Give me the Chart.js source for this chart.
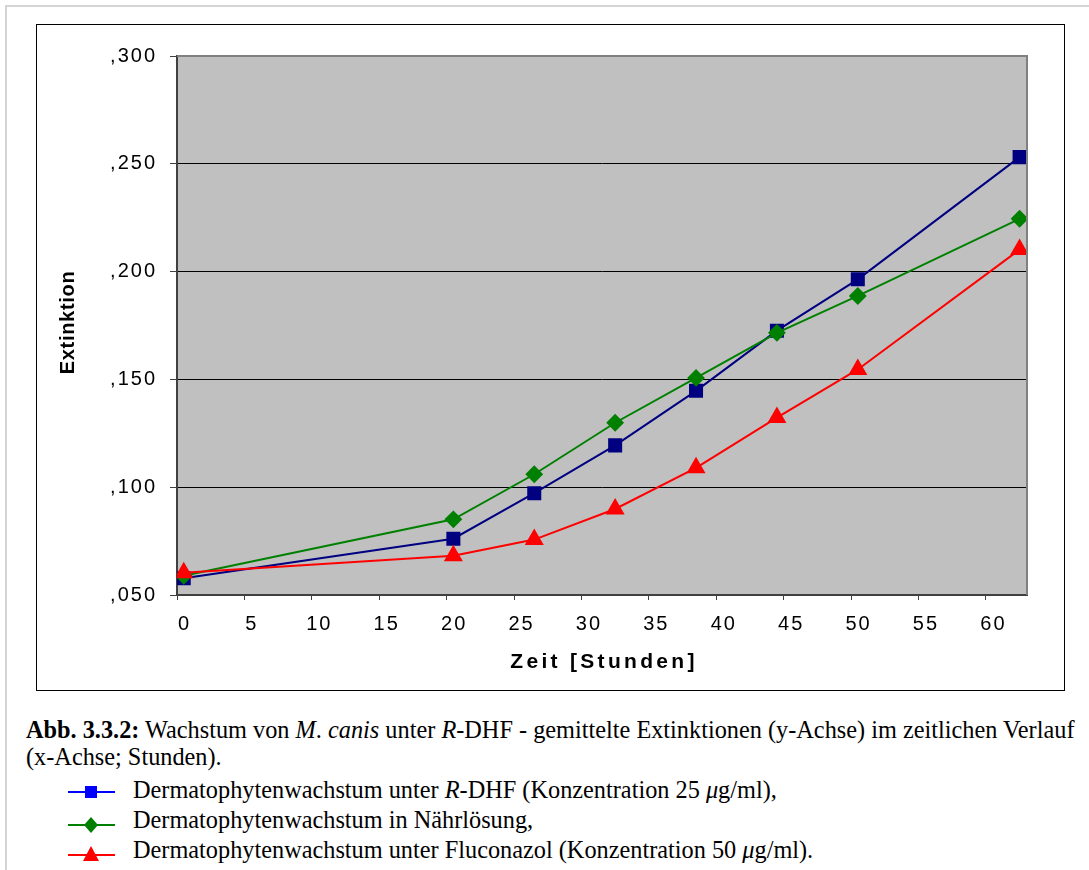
<!DOCTYPE html>
<html>
<head>
<meta charset="utf-8">
<script src="https://cdn.jsdelivr.net/npm/chart.js@4.4.1/dist/chart.umd.min.js"></script>
<style>
  body { margin: 0; background: #fff; width: 1089px; height: 870px; position: relative; overflow: hidden; }
  #frame { position: absolute; left: 5px; top: 5px; width: 1100px; height: 900px; border-top: 2px solid #d4d4d4; border-left: 2px solid #d4d4d4; }
  #box { position: absolute; left: 36px; top: 24px; width: 1029px; height: 667px; border: 1px solid #000; box-sizing: border-box; }
  #chart { position: absolute; left: 0; top: 0; }
  .cap { position: absolute; left: 26px; top: 716px; line-height: 27px; font-family: "Liberation Serif", "Times New Roman", serif; font-size: 24.3px; color: #000; white-space: nowrap; }
  .leg { position: absolute; left: 68px; height: 28px; line-height: 28px; font-family: "Liberation Serif", "Times New Roman", serif; font-size: 24.3px; color: #000; white-space: nowrap; }
  .leg svg { position: absolute; left: 0; }
  .leg span { position: absolute; left: 65px; top: 0; }
</style>
</head>
<body>
<div id="frame"></div>
<div id="box"><canvas id="chart" width="1027" height="665"></canvas></div>

<div class="cap">
  <b>Abb. 3.3.2:</b> Wachstum von <i>M</i>. <i>canis</i> unter <i>R</i>-DHF - gemittelte Extinktionen (y-Achse) im zeitlichen Verlauf<br>
  (x-Achse; Stunden).
</div>
<div class="leg" style="top:776px;">
  <svg width="50" height="18" style="top:7px;"><line x1="0" y1="9" x2="47" y2="9" stroke="#0000ff" stroke-width="2"/><rect x="17" y="3" width="12" height="12" fill="#0000ff"/></svg>
  <span>Dermatophytenwachstum unter <i>R</i>-DHF (Konzentration 25 <i>μ</i>g/ml),</span>
</div>
<div class="leg" style="top:806px;">
  <svg width="50" height="18" style="top:10px;"><line x1="0" y1="9" x2="47" y2="9" stroke="#008000" stroke-width="2"/><polygon points="23,1 30,9 23,17 16,9" fill="#008000"/></svg>
  <span>Dermatophytenwachstum in Nährlösung,</span>
</div>
<div class="leg" style="top:836px;">
  <svg width="50" height="18" style="top:9px;"><line x1="0" y1="10" x2="47" y2="10" stroke="#ff0000" stroke-width="2"/><polygon points="23,1 31,16 15,16" fill="#ff0000"/></svg>
  <span>Dermatophytenwachstum unter Fluconazol (Konzentration 50 <i>μ</i>g/ml).</span>
</div>

<script>
// hours of measurement
const hours = [0, 20, 26, 32, 38, 44, 50, 62];

// mean extinction values
const rdhf = [0.0578, 0.0761, 0.0972, 0.1194, 0.1447, 0.1726, 0.1964, 0.2531];
const naehrloesung = [0.0589, 0.0851, 0.1060, 0.1299, 0.1507, 0.1716, 0.1887, 0.2245];
const fluconazol = [0.0603, 0.0682, 0.0757, 0.0899, 0.1090, 0.1323, 0.1546, 0.2102];

// axis ticks
const xTicks = [0, 5, 10, 15, 20, 25, 30, 35, 40, 45, 50, 55, 60];
const yTicks = [0.05, 0.10, 0.15, 0.20, 0.25, 0.30];

const xTitle = "Zeit [Stunden]";
const yTitle = "Extinktion";

const sans = "'Liberation Sans', Arial, sans-serif";

function toPoints(values) {
    return hours.map((h, i) => ({ x: h, y: values[i] }));
}

// gray plot area, frame, wide axis text and titles
const plotArea = {
    id: "plotArea",
    beforeDraw(chart) {
        const { ctx, chartArea: a } = chart;
        ctx.save();
        ctx.fillStyle = "#c0c0c0";
        ctx.fillRect(a.left, a.top, a.right - a.left, a.bottom - a.top);
        ctx.restore();
        ctx.letterSpacing = "2px"; // tick labels run wide in the original
    },
    afterDraw(chart) {
        const { ctx, chartArea: a } = chart;
        ctx.letterSpacing = "0px";
        ctx.save();
        ctx.strokeStyle = "#808080";
        ctx.lineWidth = 2;
        ctx.beginPath();
        ctx.moveTo(a.left, a.top);
        ctx.lineTo(a.right, a.top);
        ctx.lineTo(a.right, a.bottom);
        ctx.stroke();

        ctx.fillStyle = "#000";
        ctx.textAlign = "center";
        ctx.textBaseline = "middle";
        ctx.font = "bold 21px " + sans;
        ctx.letterSpacing = "3.3px";
        ctx.fillText(xTitle, (a.left + a.right) / 2 + 2, 637);

        ctx.font = "bold 20px " + sans;
        ctx.letterSpacing = "0.7px";
        ctx.translate(31, (a.top + a.bottom) / 2 - 3);
        ctx.rotate(-Math.PI / 2);
        ctx.fillText(yTitle, 0, 0);
        ctx.restore();
    }
};

new Chart(document.getElementById("chart"), {
    type: "line",
    data: {
        datasets: [
            {
                label: "R-DHF",
                data: toPoints(rdhf),
                borderColor: "#000080",
                backgroundColor: "#000080",
                borderWidth: 2,
                pointStyle: "rect",
                pointRadius: 8.5,
                order: 3
            },
            {
                label: "Nährlösung",
                data: toPoints(naehrloesung),
                borderColor: "#008000",
                backgroundColor: "#008000",
                borderWidth: 2,
                pointStyle: "rectRot",
                pointRadius: 7.5,
                order: 2
            },
            {
                label: "Fluconazol",
                data: toPoints(fluconazol),
                borderColor: "#ff0000",
                backgroundColor: "#ff0000",
                borderWidth: 2,
                pointStyle: "triangle",
                pointRadius: 9,
                order: 1
            }
        ]
    },
    options: {
        responsive: false,
        devicePixelRatio: 1,
        animation: false,
        layout: { padding: { left: 0, top: 31, right: 37, bottom: 0 } },
        plugins: { legend: { display: false }, tooltip: { enabled: false } },
        scales: {
            x: {
                type: "linear",
                min: -0.5,
                max: 62.55,
                // tick marks sit half a unit before each label, as in the original
                afterBuildTicks: scale => { scale.ticks = xTicks.map(v => ({ value: v - 0.5 })); },
                afterFit: scale => { scale.height = 95; },
                border: { color: "#404040", width: 2 },
                grid: { drawOnChartArea: false, tickLength: 5, tickColor: "#404040" },
                ticks: {
                    color: "#000",
                    padding: 12,
                    maxRotation: 0,
                    labelOffset: 7.5,
                    font: { family: sans, size: 20 },
                    callback: (v, i) => String(xTicks[i])
                }
            },
            y: {
                min: 0.05,
                max: 0.3,
                afterBuildTicks: scale => { scale.ticks = yTicks.map(v => ({ value: v })); },
                afterFit: scale => { scale.width = 140; },
                border: { color: "#404040", width: 2 },
                grid: {
                    color: ctx => Math.abs(ctx.tick.value - 0.3) < 1e-9 ? "#808080" : "#000",
                    tickColor: "#404040",
                    tickLength: 7,
                    lineWidth: 1
                },
                ticks: {
                    color: "#000",
                    padding: 13,
                    font: { family: sans, size: 20 },
                    callback: v => v.toFixed(3).replace("0.", ",")
                }
            }
        }
    },
    plugins: [plotArea]
});
</script>
</body>
</html>
